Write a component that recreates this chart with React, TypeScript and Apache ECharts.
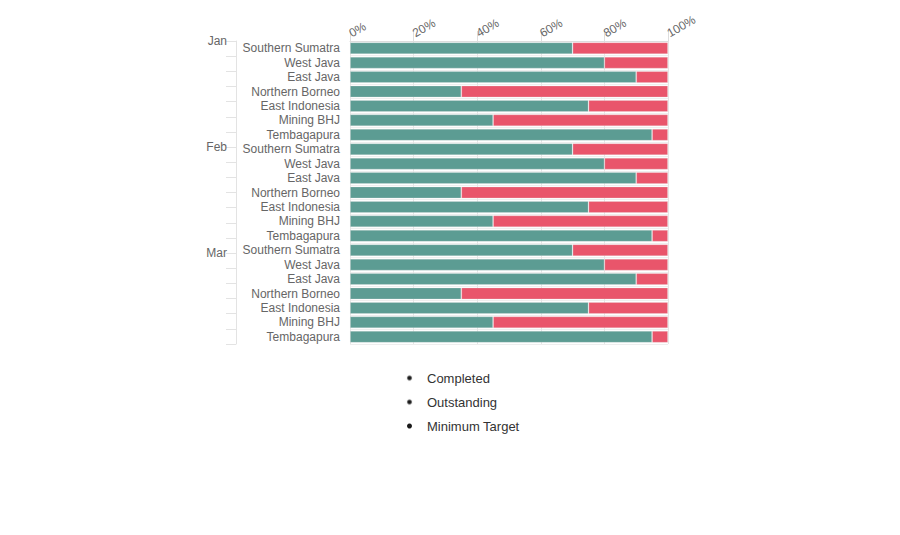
import React, { useEffect, useRef } from "react";
import * as echarts from "echarts";

const months = ["Jan", "Feb", "Mar"];
const regions = [
  "Southern Sumatra",
  "West Java",
  "East Java",
  "Northern Borneo",
  "East Indonesia",
  "Mining BHJ",
  "Tembagapura",
];
const completedJan = [70, 80, 90, 35, 75, 45, 95];
const completedFeb = [70, 80, 90, 35, 75, 45, 95];
const completedMar = [70, 80, 90, 35, 75, 45, 95];
const outstandingJan = [30, 20, 10, 65, 25, 55, 5];
const outstandingFeb = [30, 20, 10, 65, 25, 55, 5];
const outstandingMar = [30, 20, 10, 65, 25, 55, 5];
const minimumTarget: number[] = [];
const xTicks = [0, 20, 40, 60, 80, 100];
const legendNames = ["Completed", "Outstanding", "Minimum Target"];

export default function App() {
  const ref = useRef<HTMLDivElement>(null);
  useEffect(() => {
    if (!ref.current) return;
    const chart = echarts.init(ref.current, undefined, { renderer: "svg" });
    const keys: string[] = [];
    months.forEach((m) => regions.forEach((r) => keys.push(m + "|" + r)));
    const completed = [...completedJan, ...completedFeb, ...completedMar];
    const outstanding = [...outstandingJan, ...outstandingFeb, ...outstandingMar];
    const gray = "#666666";
    chart.setOption({
      animation: false,
      textStyle: { fontFamily: "Liberation Sans, Arial, sans-serif" },
      grid: { left: 350, right: 232, top: 41, bottom: 191, containLabel: false },
      xAxis: {
        type: "value",
        position: "top",
        min: xTicks[0],
        max: xTicks[xTicks.length - 1],
        interval: 20,
        axisLine: { show: true, lineStyle: { color: "#dddddd" } },
        axisTick: { show: true, length: 10, lineStyle: { color: "#dddddd" } },
        axisLabel: {
          color: gray,
          fontSize: 12,
          rotate: -30,
          margin: 7,
          formatter: "{value}%",
        },
        splitLine: { show: true, lineStyle: { color: "#e6e6e6" } },
      },
      yAxis: [
        {
          type: "category",
          inverse: true,
          data: keys,
          axisLine: { show: false },
          axisTick: { show: false },
          axisLabel: {
            color: gray,
            fontSize: 12,
            margin: 10,
            interval: 0,
            formatter: (v: string) => v.split("|")[1],
          },
          splitLine: { show: true, lineStyle: { color: "#eeeeee" } },
        },
        {
          type: "category",
          inverse: true,
          position: "left",
          offset: 114,
          boundaryGap: false,
          data: keys,
          axisLine: { show: true, lineStyle: { color: "#e3e3e3" } },
          axisTick: { show: true, length: 10, interval: 0, lineStyle: { color: "#e3e3e3" } },
          axisLabel: {
            color: gray,
            fontSize: 12,
            margin: 9,
            interval: 0,
            formatter: (v: string) => {
              const [m, r] = v.split("|");
              return r === regions[0] ? m : "";
            },
          },
          splitLine: { show: false },
        },
      ],
      legend: {
        orient: "vertical",
        left: 401,
        top: 366,
        icon: "circle",
        itemWidth: 5,
        itemHeight: 5,
        itemGap: 10,
        selectedMode: false,
        textStyle: {
          color: "#333333",
          fontSize: 13,
          lineHeight: 14,
          padding: [0, 0, 0, 10],
        },
        data: legendNames.map((n) => ({ name: n, itemStyle: { color: "#1a1a1a" } })),
      },
      series: [
        {
          name: legendNames[0],
          type: "bar",
          stack: "total",
          yAxisIndex: 0,
          barCategoryGap: "18%",
          data: completed,
          itemStyle: { color: "#5c9c93", borderColor: "rgba(230,230,230,0.35)", borderWidth: 0.8 },
        },
        {
          name: legendNames[1],
          type: "bar",
          stack: "total",
          yAxisIndex: 0,
          barCategoryGap: "18%",
          data: outstanding,
          itemStyle: { color: "#e9556b", borderColor: "rgba(230,230,230,0.35)", borderWidth: 0.8 },
        },
        {
          name: legendNames[2],
          type: "line",
          yAxisIndex: 0,
          data: minimumTarget,
          showSymbol: false,
          itemStyle: { color: "#1a1a1a" },
        },
      ],
    });
    return () => chart.dispose();
  }, []);
  return (
    <div
      ref={ref}
      style={{ position: "fixed", left: 0, top: 0, width: 900, height: 535, background: "#fff" }}
    />
  );
}
